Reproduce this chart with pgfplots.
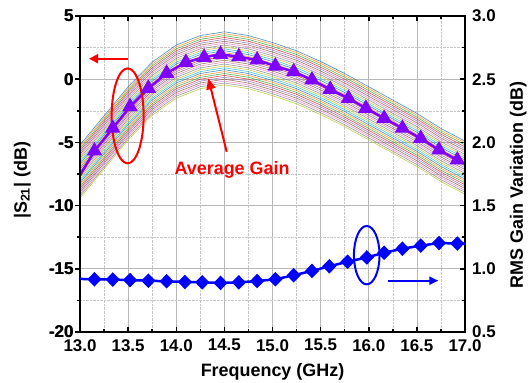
\documentclass[border=0pt]{standalone}
\usepackage{fontspec}
\setmainfont{Liberation Sans}
\usepackage{pgfplots}
\pgfplotsset{compat=1.18}
\usepackage{pgfplotstable}
\usetikzlibrary{arrows.meta}

\definecolor{tabblue}{HTML}{1F77B4}
\definecolor{taborange}{HTML}{FF7F0E}
\definecolor{tabgreen}{HTML}{2CA02C}
\definecolor{tabred}{HTML}{D62728}
\definecolor{tabpurple}{HTML}{9467BD}
\definecolor{tabbrown}{HTML}{8C564B}
\definecolor{tabpink}{HTML}{E377C2}
\definecolor{tabgray}{HTML}{7F7F7F}
\definecolor{tabolive}{HTML}{BCBD22}
\definecolor{tabcyan}{HTML}{17BECF}
\definecolor{avgviolet}{RGB}{128,0,255}

\pgfplotscreateplotcyclelist{tab}{tabblue\\taborange\\tabgreen\\tabred\\tabpurple\\tabbrown\\tabpink\\tabgray\\tabolive\\tabcyan\\}

\pgfplotstableread{
x c0 c1 c2 c3 c4 c5 c6 c7 c8 c9 c10 c11 c12 c13 c14 c15 c16 c17 c18 c19 c20 c21 c22 c23 c24 c25 c26 c27 c28
13.00 -5.2 -5.35 -5.5 -5.65 -5.8 -5.95 -6.1 -6.25 -6.4 -6.55 -6.7 -6.85 -7.0 -7.15 -7.3 -7.45 -7.6 -7.75 -7.9 -8.05 -8.2 -8.35 -8.5 -8.65 -8.8 -8.95 -9.1 -9.25 -9.4
13.25 -2.9 -3.05 -3.2 -3.35 -3.5 -3.65 -3.8 -3.95 -4.1 -4.25 -4.4 -4.55 -4.7 -4.85 -5.0 -5.15 -5.3 -5.45 -5.6 -5.75 -5.9 -6.05 -6.2 -6.35 -6.5 -6.65 -6.8 -6.95 -7.1
13.50 -0.6 -0.75 -0.9 -1.05 -1.2 -1.35 -1.5 -1.65 -1.8 -1.95 -2.1 -2.25 -2.4 -2.55 -2.7 -2.85 -3.0 -3.15 -3.3 -3.45 -3.6 -3.75 -3.9 -4.05 -4.2 -4.35 -4.5 -4.65 -4.8
13.75 1.35 1.2 1.05 0.9 0.75 0.6 0.45 0.3 0.15 0.0 -0.15 -0.3 -0.45 -0.6 -0.75 -0.9 -1.05 -1.2 -1.35 -1.5 -1.65 -1.8 -1.95 -2.1 -2.25 -2.4 -2.55 -2.7 -2.85
14.00 2.7 2.55 2.4 2.25 2.1 1.95 1.8 1.65 1.5 1.35 1.2 1.05 0.9 0.75 0.6 0.45 0.3 0.15 0.0 -0.15 -0.3 -0.45 -0.6 -0.75 -0.9 -1.05 -1.2 -1.35 -1.5
14.25 3.45 3.3 3.15 3.0 2.85 2.7 2.55 2.4 2.25 2.1 1.95 1.8 1.65 1.5 1.35 1.2 1.05 0.9 0.75 0.6 0.45 0.3 0.15 0.0 -0.15 -0.3 -0.45 -0.6 -0.75
14.50 3.75 3.6 3.45 3.3 3.15 3.0 2.85 2.7 2.55 2.4 2.25 2.1 1.95 1.8 1.65 1.5 1.35 1.2 1.05 0.9 0.75 0.6 0.45 0.3 0.15 0.0 -0.15 -0.3 -0.45
14.75 3.45 3.3 3.15 3.0 2.85 2.7 2.55 2.4 2.25 2.1 1.95 1.8 1.65 1.5 1.35 1.2 1.05 0.9 0.75 0.6 0.45 0.3 0.15 0.0 -0.15 -0.3 -0.45 -0.6 -0.75
15.00 2.9 2.75 2.6 2.45 2.3 2.15 2.0 1.85 1.7 1.55 1.4 1.25 1.1 0.95 0.8 0.65 0.5 0.35 0.2 0.05 -0.1 -0.25 -0.4 -0.55 -0.7 -0.85 -1.0 -1.15 -1.3
15.25 2.25 2.1 1.95 1.8 1.65 1.5 1.35 1.2 1.05 0.9 0.75 0.6 0.45 0.3 0.15 0.0 -0.15 -0.3 -0.45 -0.6 -0.75 -0.9 -1.05 -1.2 -1.35 -1.5 -1.65 -1.8 -1.95
15.50 1.4 1.25 1.1 0.95 0.8 0.65 0.5 0.35 0.2 0.05 -0.1 -0.25 -0.4 -0.55 -0.7 -0.85 -1.0 -1.15 -1.3 -1.45 -1.6 -1.75 -1.9 -2.05 -2.2 -2.35 -2.5 -2.65 -2.8
15.75 0.45 0.3 0.15 0.0 -0.15 -0.3 -0.45 -0.6 -0.75 -0.9 -1.05 -1.2 -1.35 -1.5 -1.65 -1.8 -1.95 -2.1 -2.25 -2.4 -2.55 -2.7 -2.85 -3.0 -3.15 -3.3 -3.45 -3.6 -3.75
16.00 -0.6 -0.75 -0.9 -1.05 -1.2 -1.35 -1.5 -1.65 -1.8 -1.95 -2.1 -2.25 -2.4 -2.55 -2.7 -2.85 -3.0 -3.15 -3.3 -3.45 -3.6 -3.75 -3.9 -4.05 -4.2 -4.35 -4.5 -4.65 -4.8
16.25 -1.65 -1.8 -1.95 -2.1 -2.25 -2.4 -2.55 -2.7 -2.85 -3.0 -3.15 -3.3 -3.45 -3.6 -3.75 -3.9 -4.05 -4.2 -4.35 -4.5 -4.65 -4.8 -4.95 -5.1 -5.25 -5.4 -5.55 -5.7 -5.85
16.50 -2.7 -2.85 -3.0 -3.15 -3.3 -3.45 -3.6 -3.75 -3.9 -4.05 -4.2 -4.35 -4.5 -4.65 -4.8 -4.95 -5.1 -5.25 -5.4 -5.55 -5.7 -5.85 -6.0 -6.15 -6.3 -6.45 -6.6 -6.75 -6.9
16.75 -3.9 -4.05 -4.2 -4.35 -4.5 -4.65 -4.8 -4.95 -5.1 -5.25 -5.4 -5.55 -5.7 -5.85 -6.0 -6.15 -6.3 -6.45 -6.6 -6.75 -6.9 -7.05 -7.2 -7.35 -7.5 -7.65 -7.8 -7.95 -8.1
17.00 -4.9 -5.05 -5.2 -5.35 -5.5 -5.65 -5.8 -5.95 -6.1 -6.25 -6.4 -6.55 -6.7 -6.85 -7.0 -7.15 -7.3 -7.45 -7.6 -7.75 -7.9 -8.05 -8.2 -8.35 -8.5 -8.65 -8.8 -8.95 -9.1
}\bundle

\begin{document}
\begin{tikzpicture}
\pgfplotsset{
  common/.style={
    scale only axis, width=385bp, height=316bp,
    xmin=13, xmax=17,
    axis line style={line width=1.5bp},
    every tick/.style={black, line width=1.5bp},
    major tick length=5bp, minor tick length=3bp,
    /pgf/number format/assume math mode=true,
    tick label style={font=\fontsize{17}{17}\selectfont\bfseries, inner sep=1bp},
    label style={font=\fontsize{18}{18}\selectfont\bfseries},
  }
}
\begin{axis}[
  common, name=ax1,
  ymin=-20, ymax=5,
  xtick={13,13.5,14,14.5,15,15.5,16,16.5,17},
  minor x tick num=1,
  ytick={-20,-15,-10,-5,0,5},
  minor y tick num=1,
  ytick pos=right, yticklabel pos=left,
  tick align=inside,
  grid=both,
  major grid style={black!28, line width=0.7bp},
  minor grid style={black!22, densely dotted, line width=0.6bp},
  x tick label style={yshift=-6bp, /pgf/number format/.cd, fixed, fixed zerofill, precision=1},
  y tick label style={xshift=-5.5bp, /pgf/number format/.cd, fixed},
  xlabel={Frequency (GHz)},
  ylabel={|S\textsubscript{21}| (dB)},
  xlabel style={at={(axis description cs:0.5,-0.126)}, anchor=center},
  ylabel style={at={(axis description cs:-0.15,0.48)}, anchor=center},
  cycle list name=tab,
]
\pgfplotsinvokeforeach{0,...,28}{
  \addplot+[no markers, line width=0.6bp, opacity=0.8] table[x=x, y=c#1] {\bundle};
}
\addplot[color=avgviolet, line width=2.5bp, mark=triangle*, mark size=6.5bp,
  mark indices={2,3,4,5,6,7,8,9,10,11,12,13,14,15,16,17,18,19,20,21,22}]
  coordinates {
  (13.00,-7.6) (13.15,-5.68) (13.34,-3.88) (13.52,-2.17) (13.71,-0.72) (13.90,0.47)
  (14.10,1.34) (14.29,1.73) (14.46,1.97) (14.65,1.78) (14.84,1.52) (15.03,1.04)
  (15.22,0.59) (15.41,-0.06) (15.60,-0.80) (15.79,-1.51) (15.97,-2.30) (16.16,-3.09)
  (16.35,-3.88) (16.54,-4.68) (16.73,-5.60) (16.92,-6.39) (17.00,-6.70)
  };
% annotations
\draw[red, line width=2bp, -{Triangle[length=9bp,width=9bp]}] (axis cs:13.50,1.62) -- (axis cs:13.094,1.62);
\draw[red, line width=2bp] (axis cs:13.495,-2.9) ellipse [x radius=16bp, y radius=47.5bp];
\node[red, font=\fontsize{18}{18}\selectfont\bfseries] at (axis cs:14.58,-7.18) {Average Gain};
\draw[red, line width=2bp, -{Triangle[length=11bp,width=9bp]}] (axis cs:14.524,-5.74) -- (axis cs:14.333,0.07);
\draw[blue, line width=2bp] (axis cs:15.979,-13.92) ellipse [x radius=12.8bp, y radius=29.2bp];
\draw[blue, line width=2bp, -{Triangle[length=9bp,width=8bp]}] (axis cs:16.203,-15.94) -- (axis cs:16.723,-15.94);
\end{axis}
% left y ticks (outside), no labels
\begin{axis}[
  common,
  ymin=-20, ymax=5,
  axis x line=none,
  axis y line*=left,
  ytick={-20,-15,-10,-5,0,5},
  minor y tick num=1,
  tick align=outside,
  yticklabel={},
]
\end{axis}
% right axis
\begin{axis}[
  common,
  ymin=0.5, ymax=3,
  axis x line=none,
  axis y line*=right,
  ytick={0.5,1,1.5,2,2.5,3},
  major tick length=0bp, minor tick length=0bp,
  y tick label style={xshift=6bp, /pgf/number format/.cd, fixed, fixed zerofill, precision=1},
  ylabel={RMS Gain Variation (dB)},
  ylabel style={at={(axis description cs:1.138,0.465)}, anchor=center},
]
\addplot[color=blue, line width=2.5bp, mark=diamond*, mark size=5.5bp, mark options={xscale=1.3},
  mark indices={2,3,4,5,6,7,8,9,10,11,12,13,14,15,16,17,18,19,20,21,22}]
  coordinates {
  (13.00,0.920) (13.15,0.917) (13.34,0.915) (13.52,0.911) (13.71,0.906) (13.90,0.901)
  (14.09,0.896) (14.27,0.893) (14.46,0.888) (14.65,0.893) (14.84,0.903) (15.03,0.917)
  (15.22,0.949) (15.41,0.983) (15.59,1.020) (15.78,1.056) (15.98,1.090) (16.16,1.127)
  (16.35,1.159) (16.54,1.183) (16.73,1.204) (16.92,1.200) (17.00,1.200)
  };
\end{axis}
\pgfresetboundingbox
\path[use as bounding box] ([shift={(-80bp,-50bp)}]ax1.south west) rectangle ([shift={(65bp,16bp)}]ax1.north east);
\end{tikzpicture}
\end{document}
